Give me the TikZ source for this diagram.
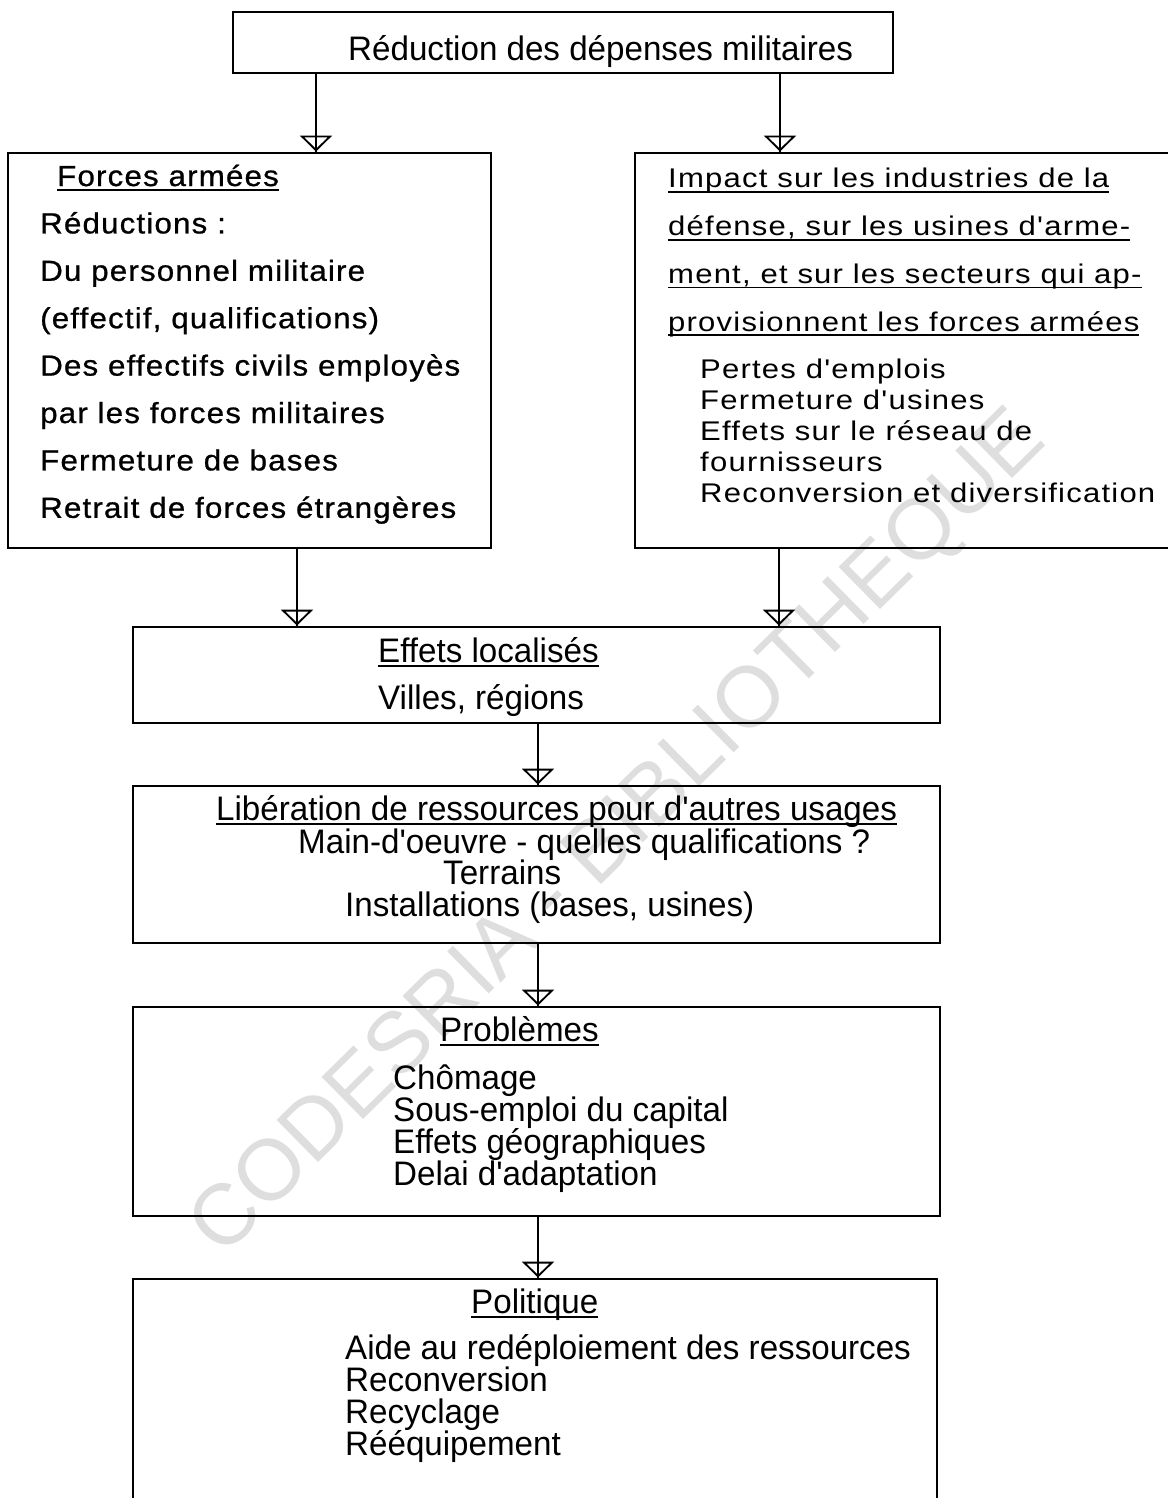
\documentclass[tikz,border=0pt]{standalone}
\usepackage{fontspec}
\setmainfont{Liberation Sans}
\newfontfamily\policeA[FakeStretch=0.975]{Liberation Sans}
\newfontfamily\policeB[FakeStretch=1.15,LetterSpace=4.5]{Liberation Sans}
\newfontfamily\policeC[FakeStretch=1.08,LetterSpace=4,FakeBold=0.8]{Liberation Sans}
\newcommand\souligne[1]{\setbox0\hbox{#1}\rlap{\rule[-5pt]{\wd0}{1.8pt}}\box0}
\usepackage{tikz}
\usetikzlibrary{arrows.meta}
\tikzstyle{bloc}=[rectangle,draw=black,line width=2.8pt,inner sep=0mm]
\tikzstyle{txtA}=[anchor=base west,inner sep=0mm,font=\policeA\fontsize{34}{32}\selectfont]
\tikzstyle{txtB}=[anchor=base west,inner sep=0mm,font=\policeB\fontsize{27}{31}\selectfont]
\tikzstyle{txtC}=[anchor=base west,inner sep=0mm,font=\policeC\fontsize{29}{32}\selectfont]
\tikzstyle{filigrane}=[text=black!13,inner sep=0mm,rotate=44.6,font=\fontsize{86}{90}\selectfont]
\tikzstyle{flow}=[line width=1.9pt,-{Triangle[open,width=32pt,length=16pt]},postaction={draw,arrows=-}]
\tikzset{every picture/.style={
    x=1pt,y=-1pt
  }
}

\begin{document}
\begin{tikzpicture}
      \useasboundingbox (0,0) rectangle (1167,1498);
      \node[filigrane] at (620,835) (cod) {CODESRIA - BIBLIOTHEQUE};
      % boites
      \node[bloc,minimum width=660pt,minimum height=61pt] at (563,42.5) (red) {};
      \node[bloc,minimum width=483pt,minimum height=395pt] at (249.5,350.5) (forces) {};
      \node[bloc,minimum width=550pt,minimum height=395pt] at (910,350.5) (impact) {};
      \node[bloc,minimum width=807pt,minimum height=96pt] at (536.5,675) (effets) {};
      \node[bloc,minimum width=807pt,minimum height=157pt] at (536.5,864.5) (liber) {};
      \node[bloc,minimum width=807pt,minimum height=209pt] at (536.5,1111.5) (prob) {};
      \node[bloc,minimum width=804pt,minimum height=251pt] at (535,1404.5) (pol) {};
      % textes
      \node[txtA] at (348,61) (redt) {Réduction des dépenses militaires};
      \node[txtC] at (57,186) (fa0) {\souligne{Forces armées}};
      \foreach \t [count=\i] in {Réductions :, Du personnel militaire, {(effectif, qualifications)}, Des effectifs civils employès, par les forces militaires, Fermeture de bases, Retrait de forces étrangères}
        \node[txtC] at (40,186+47.4*\i) (fa\i) {\t};
      \foreach \t [count=\i from 0] in {Impact sur les industries de la, {défense, sur les usines d'arme-}, {ment, et sur les secteurs qui ap-}, provisionnent les forces armées}
        \node[txtB] at (668,188+47.7*\i) (im\i) {\souligne{\t}};
      \foreach \t [count=\i from 0] in {Pertes d'emplois, Fermeture d'usines, Effets sur le réseau de, fournisseurs, Reconversion et diversification}
        \node[txtB] at (700,378+31*\i) (ip\i) {\t};
      \node[txtA] at (378,662) (ef0) {\souligne{Effets localisés}};
      \node[txtA] at (378,709) (ef1) {Villes, régions};
      \node[txtA] at (216,820) (li0) {\souligne{Libération de ressources pour d'autres usages}};
      \node[txtA] at (298,853) (li1) {Main-d'oeuvre - quelles qualifications ?};
      \node[txtA] at (443,884) (li2) {Terrains};
      \node[txtA] at (345,916) (li3) {Installations (bases, usines)};
      \node[txtA] at (440,1041) (pb0) {\souligne{Problèmes}};
      \foreach \t [count=\i] in {Chômage, Sous-emploi du capital, Effets géographiques, Delai d'adaptation}
        \node[txtA] at (393,1057+32*\i) (pb\i) {\t};
      \node[txtA] at (471,1313) (po0) {\souligne{Politique}};
      \foreach \t [count=\i] in {Aide au redéploiement des ressources, Reconversion, Recyclage, Rééquipement}
        \node[txtA] at (345,1327+32*\i) (po\i) {\t};
      % fleches
      \draw[flow] (red.south -| 316,0) -- (forces.north -| 316,0);
      \draw[flow] (red.south -| 780,0) -- (impact.north -| 780,0);
      \draw[flow] (forces.south -| 297,0) -- (effets.north -| 297,0);
      \draw[flow] (impact.south -| 779,0) -- (effets.north -| 779,0);
      \draw[flow] (effets.south -| 538,0) -- (liber.north -| 538,0);
      \draw[flow] (liber.south -| 538,0) -- (prob.north -| 538,0);
      \draw[flow] (prob.south -| 538,0) -- (pol.north -| 538,0);
    \end{tikzpicture}
\end{document}
